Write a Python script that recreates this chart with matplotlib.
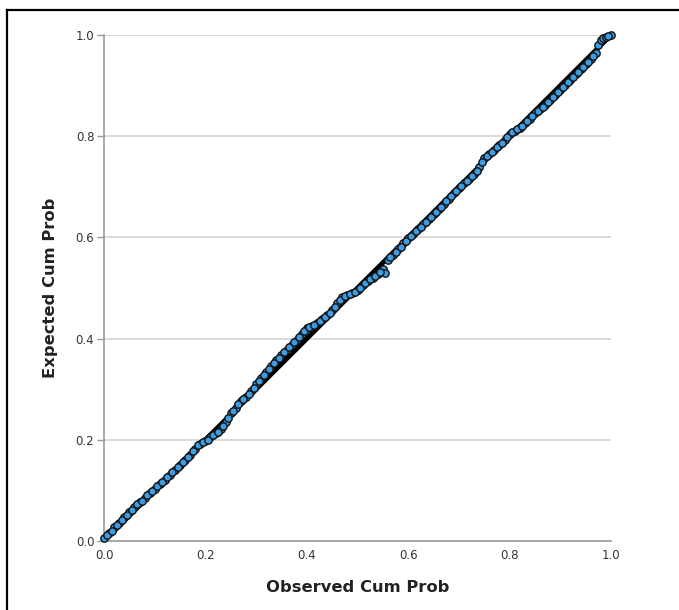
import matplotlib
matplotlib.use("Agg")
import matplotlib.pyplot as plt
from matplotlib.lines import Line2D

# P-P plot values
observed = [
    0.00, 0.01, 0.02, 0.03, 0.04, 0.05, 0.06, 0.07, 0.08, 0.09,
    0.10, 0.11, 0.12, 0.13, 0.14, 0.15, 0.16, 0.17, 0.18, 0.19,
    0.20, 0.21, 0.22, 0.23, 0.24, 0.25, 0.26, 0.27, 0.28, 0.29,
    0.30, 0.31, 0.32, 0.33, 0.34, 0.35, 0.36, 0.37, 0.38, 0.39,
    0.40, 0.41, 0.42, 0.43, 0.44, 0.45, 0.46, 0.47, 0.48, 0.49,
    0.50, 0.51, 0.52, 0.53, 0.54, 0.55, 0.555, 0.56, 0.57, 0.58, 0.59,
    0.60, 0.61, 0.62, 0.63, 0.64, 0.65, 0.66, 0.67, 0.68, 0.69,
    0.70, 0.71, 0.72, 0.73, 0.74, 0.75, 0.76, 0.77, 0.78, 0.79,
    0.80, 0.81, 0.82, 0.83, 0.84, 0.85, 0.86, 0.87, 0.88, 0.89,
    0.90, 0.91, 0.92, 0.93, 0.94, 0.95, 0.96, 0.97, 0.975, 0.98,
    0.985, 0.99, 1.00,
]
expected = [
    0.005, 0.015, 0.027, 0.035, 0.047, 0.058, 0.067, 0.077, 0.085, 0.095,
    0.103, 0.112, 0.121, 0.131, 0.140, 0.151, 0.161, 0.170, 0.182, 0.192,
    0.197, 0.205, 0.213, 0.222, 0.235, 0.252, 0.262, 0.276, 0.285, 0.296,
    0.310, 0.322, 0.334, 0.346, 0.357, 0.368, 0.378, 0.388, 0.398, 0.410,
    0.420, 0.425, 0.430, 0.438, 0.446, 0.456, 0.470, 0.483, 0.487, 0.490,
    0.497, 0.505, 0.513, 0.520, 0.528, 0.537, 0.530, 0.556, 0.566, 0.577, 0.588,
    0.598, 0.607, 0.617, 0.626, 0.636, 0.646, 0.656, 0.666, 0.676, 0.687,
    0.697, 0.707, 0.716, 0.726, 0.740, 0.757, 0.765, 0.773, 0.782, 0.792,
    0.805, 0.811, 0.817, 0.826, 0.835, 0.845, 0.853, 0.862, 0.872, 0.882,
    0.892, 0.902, 0.912, 0.922, 0.932, 0.942, 0.953, 0.965, 0.980, 0.990,
    0.995, 0.997, 1.000,
]
# in-between cases that fill out the dense band
observed_mid = [
    0.005, 0.015, 0.025, 0.035, 0.045, 0.055, 0.065, 0.075, 0.085, 0.095,
    0.105, 0.115, 0.125, 0.135, 0.145, 0.155, 0.165, 0.175, 0.185, 0.195,
    0.205, 0.215, 0.225, 0.235, 0.245, 0.255, 0.265, 0.275, 0.285, 0.295,
    0.305, 0.315, 0.325, 0.335, 0.345, 0.355, 0.365, 0.375, 0.385, 0.395,
    0.405, 0.415, 0.425, 0.435, 0.445, 0.455, 0.465, 0.475, 0.485, 0.495,
    0.505, 0.515, 0.525, 0.535, 0.545, 0.565, 0.575, 0.585, 0.595,
    0.605, 0.615, 0.625, 0.635, 0.645, 0.655, 0.665, 0.675, 0.685, 0.695,
    0.705, 0.715, 0.725, 0.735, 0.745, 0.755, 0.765, 0.775, 0.785, 0.795,
    0.805, 0.815, 0.825, 0.835, 0.845, 0.855, 0.865, 0.875, 0.885, 0.895,
    0.905, 0.915, 0.925, 0.935, 0.945, 0.955, 0.965, 0.995,
]
expected_mid = [
    0.012, 0.020, 0.032, 0.042, 0.052, 0.062, 0.073, 0.080, 0.090, 0.099,
    0.108, 0.117, 0.126, 0.136, 0.146, 0.156, 0.166, 0.177, 0.190, 0.195,
    0.200, 0.209, 0.216, 0.228, 0.243, 0.257, 0.270, 0.280, 0.291, 0.303,
    0.316, 0.328, 0.340, 0.351, 0.362, 0.373, 0.383, 0.393, 0.404, 0.416,
    0.423, 0.427, 0.434, 0.442, 0.451, 0.462, 0.477, 0.485, 0.488, 0.493,
    0.501, 0.509, 0.517, 0.524, 0.532, 0.561, 0.571, 0.582, 0.593,
    0.602, 0.612, 0.621, 0.631, 0.641, 0.651, 0.661, 0.671, 0.681, 0.692,
    0.702, 0.711, 0.721, 0.732, 0.750, 0.761, 0.769, 0.778, 0.787, 0.798,
    0.808, 0.814, 0.821, 0.830, 0.840, 0.849, 0.857, 0.867, 0.877, 0.887,
    0.897, 0.907, 0.917, 0.927, 0.937, 0.947, 0.958, 0.999,
]
ticks = [0.0, 0.2, 0.4, 0.6, 0.8, 1.0]
tick_labels = ["0.0", "0.2", "0.4", "0.6", "0.8", "1.0"]

fig = plt.figure(figsize=(6.79, 6.10), dpi=100)
ax = fig.add_axes([0.1532, 0.1131, 0.7467, 0.8295])

# outer frame (only top and left edges are visible in the crop)
fig.add_artist(Line2D([7 / 679, 7 / 679], [0, 1 - 10 / 610], transform=fig.transFigure,
                      color="black", lw=1.6))
fig.add_artist(Line2D([7 / 679, 1], [1 - 10 / 610, 1 - 10 / 610], transform=fig.transFigure,
                      color="black", lw=1.6))

ax.plot([0, 1], [0, 1], color="black", lw=3.5, zorder=2, solid_capstyle="butt")
ax.scatter(observed + observed_mid, expected + expected_mid, s=28,
           facecolor="#3d9de4", edgecolor="#111111", linewidths=1.0,
           zorder=3, clip_on=False)

ax.set_xlim(0, 1)
ax.set_ylim(0, 1)
ax.set_xticks(ticks)
ax.set_xticklabels(tick_labels)
ax.set_yticks(ticks)
ax.set_yticklabels(tick_labels)
ax.yaxis.grid(True, color="#d4d4d4", lw=1.2)
ax.set_axisbelow(True)

for side in ("top", "right"):
    ax.spines[side].set_visible(False)
for side in ("left", "bottom"):
    ax.spines[side].set_color("#9a9a9a")
    ax.spines[side].set_linewidth(1.2)

ax.tick_params(axis="y", length=5, width=1, color="#9a9a9a", labelsize=8.5,
               labelcolor="#333333", pad=2)
ax.tick_params(axis="x", length=0, labelsize=8.5, labelcolor="#333333", pad=6)

ax.set_xlabel("Observed Cum Prob", fontsize=11.8, fontweight="bold", labelpad=13,
              color="#222222")
ax.set_ylabel("Expected Cum Prob", fontsize=11.8, fontweight="bold", labelpad=13,
              color="#222222")

fig.savefig("out.png", dpi=100)
